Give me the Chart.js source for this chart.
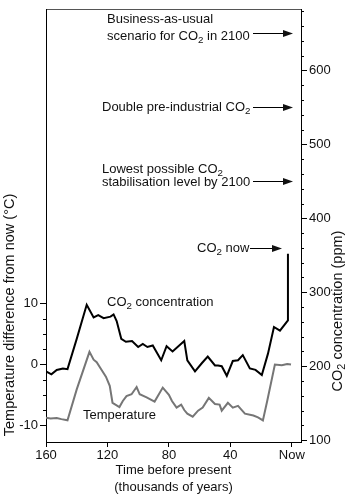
<!DOCTYPE html>
<html>
<head>
<meta charset="utf-8">
<script src="https://cdn.jsdelivr.net/npm/chart.js@4"></script>
<style>
  html, body { margin: 0; padding: 0; background: #fff; }
  canvas { display: block; }
</style>
</head>
<body>
<canvas id="vostok" width="354" height="497"></canvas>
<script>
// Vostok ice core: CO2 and temperature over the last 160 000 years
const co2Kyr = [160, 156.5, 153, 149, 146, 140, 133.5, 129, 126, 122.5, 118, 116, 114, 111, 108, 104, 100, 97, 94, 90.5,
  85, 81.5, 77.6, 70, 68, 63, 58.6, 54.7, 50, 48, 45.6, 42.3, 38.4, 35, 31.9, 27.3, 23.6, 19.5, 15.5, 11.6, 7.7, 2.5, 2.5];
const co2Ppm = [193, 189, 195, 197, 196, 237, 283, 266, 269, 265, 267, 270, 261, 237, 233, 234, 226, 230, 226, 228,
  208, 227, 220, 234, 208, 193, 204, 213, 201, 201, 200, 187, 207, 208, 215, 197, 195, 188, 217, 253, 248, 262, 352];

const tempKyr = [160, 157, 153, 150, 146, 140, 131.7, 129, 127, 124, 121, 118.5, 116.7, 112.2, 110, 107.6, 104.3, 101, 99,
  94.5, 89.3, 84, 80, 78, 75, 72, 70, 68, 64.5, 61, 58, 54, 50, 47, 45.6, 41.6, 38.4, 35, 30.5, 25, 22, 18.8, 16, 11, 6.5, 3, 0.5];
const tempDeg = [-8.75, -8.9, -8.8, -9.0, -9.2, -4.1, 2.1, 0.8, 0.4, -0.8, -2.0, -3.5, -6.3, -7.0, -6.0, -5.2, -4.9, -3.7, -4.9,
  -5.4, -6.1, -3.8, -5.0, -6.0, -7.1, -6.6, -7.5, -8.1, -8.6, -7.6, -7.1, -5.5, -6.5, -6.6, -7.6, -6.3, -7.1, -6.8, -8.1, -8.4, -8.7, -9.2, -6.0, 0, -0.1, 0.1, 0];

const xTicks = [160, 120, 80, 40, 0];
const tempTicks = [-10, 0, 10];
const tempMinor = [-7.5, -5, -2.5, 2.5, 5, 7.5];
const ppmTicks = [100, 200, 300, 400, 500, 600];
const ppmMinor = [120, 140, 160, 180, 220, 240, 260, 280, 320, 340, 360, 380, 420, 440, 460, 480,
  520, 540, 560, 580, 620, 640, 660, 680];

// reference levels pointed at by arrows (ppm)
const arrowPpm = [650, 550, 450, 360];
const arrowText = [
  ['Business-as-usual', 'scenario for CO_2 in 2100'],
  ['Double pre-industrial CO_2'],
  ['Lowest possible CO_2', 'stabilisation level by 2100'],
  ['CO_2 now']
];

const FONT = "'Liberation Sans', Arial, sans-serif";
Chart.defaults.font.family = FONT;
Chart.defaults.font.size = 13;
Chart.defaults.color = '#111';

// text with "_2" drawn as subscript 2
function richWidth(ctx, str, size) {
  let w = 0;
  str.split('_2').forEach((part, i) => {
    if (i > 0) { ctx.font = (size * 0.75) + 'px ' + FONT; w += ctx.measureText('2').width; }
    ctx.font = size + 'px ' + FONT;
    w += ctx.measureText(part).width;
  });
  return w;
}
function richText(ctx, str, x, y, size) {
  str.split('_2').forEach((part, i) => {
    if (i > 0) {
      ctx.font = (size * 0.75) + 'px ' + FONT;
      ctx.fillText('2', x, y + size * 0.3);
      x += ctx.measureText('2').width;
    }
    ctx.font = size + 'px ' + FONT;
    ctx.fillText(part, x, y);
    x += ctx.measureText(part).width;
  });
}
function arrow(ctx, x1, x2, y) {
  ctx.beginPath();
  ctx.moveTo(x1, y + 0.5);
  ctx.lineTo(x2 - 6, y + 0.5);
  ctx.stroke();
  ctx.beginPath();
  ctx.moveTo(x2, y + 0.5);
  ctx.lineTo(x2 - 10, y - 3);
  ctx.lineTo(x2 - 10, y + 4);
  ctx.closePath();
  ctx.fill();
}

const overlay = {
  id: 'overlay',
  afterDraw(chart) {
    const { ctx, chartArea: area, scales } = chart;
    const yL = scales.yL, yR = scales.yR;
    ctx.save();
    ctx.strokeStyle = '#000';
    ctx.fillStyle = '#111';
    ctx.lineWidth = 1;

    // minor ticks
    tempMinor.forEach(v => {
      const y = Math.round(yL.getPixelForValue(v)) + 0.5;
      ctx.beginPath(); ctx.moveTo(area.left - 3, y); ctx.lineTo(area.left, y); ctx.stroke();
    });
    ppmMinor.forEach(v => {
      const y = Math.round(yR.getPixelForValue(v)) + 0.5;
      ctx.beginPath(); ctx.moveTo(area.right, y); ctx.lineTo(area.right + 3, y); ctx.stroke();
    });

    // arrows and their notes
    ctx.textBaseline = 'middle';
    ctx.textAlign = 'left';
    const xs = [[107, 253, 293], [102, 253, 293], [102, 253, 293], [197, 250, 282]];
    arrowPpm.forEach((v, i) => {
      const y = Math.round(yR.getPixelForValue(v));
      arrow(ctx, xs[i][1], xs[i][2], y);
      const lines = arrowText[i];
      if (lines.length === 1) {
        richText(ctx, lines[0], xs[i][0], y, 13);
      } else {
        richText(ctx, lines[0], xs[i][0], y - 12 + (i === 2 ? 0 : -2), 13);
        richText(ctx, lines[1], xs[i][0], y + 2 + (i === 2 ? -1 : 1), 13);
      }
    });

    // series labels
    richText(ctx, 'CO_2 concentration', 107, 302, 13);
    richText(ctx, 'Temperature', 83, 415, 13);

    // axis titles
    ctx.save();
    ctx.translate(10, 315);
    ctx.rotate(-Math.PI / 2);
    ctx.textAlign = 'center';
    ctx.font = '14.5px ' + FONT;
    ctx.fillText('Temperature difference from now (°C)', 0, 0);
    ctx.restore();

    ctx.save();
    ctx.translate(338, 311);
    ctx.rotate(-Math.PI / 2);
    const t = 'CO_2 concentration (ppm)';
    richText(ctx, t, -richWidth(ctx, t, 14.5) / 2, 0, 14.5);
    ctx.restore();

    ctx.restore();
  }
};

const axisGrid = (len) => ({ drawOnChartArea: false, drawTicks: true, tickLength: len, color: '#000' });

new Chart(document.getElementById('vostok'), {
  type: 'line',
  data: {
    datasets: [
      {
        label: 'CO2 concentration',
        data: co2Kyr.map((k, i) => ({ x: k, y: co2Ppm[i] })),
        yAxisID: 'yR',
        borderColor: '#000',
        borderWidth: 2,
        pointRadius: 0,
        tension: 0
      },
      {
        label: 'Temperature',
        data: tempKyr.map((k, i) => ({ x: k, y: tempDeg[i] })),
        yAxisID: 'yL',
        borderColor: '#767676',
        borderWidth: 2,
        pointRadius: 0,
        tension: 0
      }
    ]
  },
  options: {
    responsive: false,
    animation: false,
    layout: { padding: 0 },
    plugins: { legend: { display: false }, tooltip: { enabled: false } },
    scales: {
      x: {
        type: 'linear',
        position: 'bottom',
        reverse: true,
        min: -6,
        max: 160,
        afterBuildTicks: s => { s.ticks = xTicks.map(v => ({ value: v })); },
        afterFit: s => { s.height = 55; },
        ticks: { padding: 1, callback: v => (v === 0 ? 'Now' : v), maxRotation: 0 },
        grid: axisGrid(5),
        border: { color: '#000' },
        title: {
          display: true,
          text: ['Time before present', '(thousands of years)'],
          font: { size: 13, lineHeight: 1.3 },
          padding: { top: 0, bottom: 1 }
        }
      },
      x2: {
        type: 'linear',
        position: 'top',
        reverse: true,
        min: -6,
        max: 160,
        afterFit: s => { s.height = 2; },
        ticks: { display: false },
        grid: { drawOnChartArea: false, drawTicks: false },
        border: { color: '#555' }
      },
      yL: {
        type: 'linear',
        position: 'left',
        min: -12.77,
        max: 58.5,
        afterBuildTicks: s => { s.ticks = tempTicks.map(v => ({ value: v })); },
        afterFit: s => { s.width = 46; },
        ticks: { padding: 2 },
        grid: axisGrid(6),
        border: { color: '#000' }
      },
      yR: {
        type: 'linear',
        position: 'right',
        min: 97.5,
        max: 682,
        afterBuildTicks: s => { s.ticks = ppmTicks.map(v => ({ value: v })); },
        afterFit: s => { s.width = 53; },
        ticks: { padding: 2 },
        grid: axisGrid(6),
        border: { color: '#000' }
      }
    }
  },
  plugins: [overlay]
});
</script>
</body>
</html>
